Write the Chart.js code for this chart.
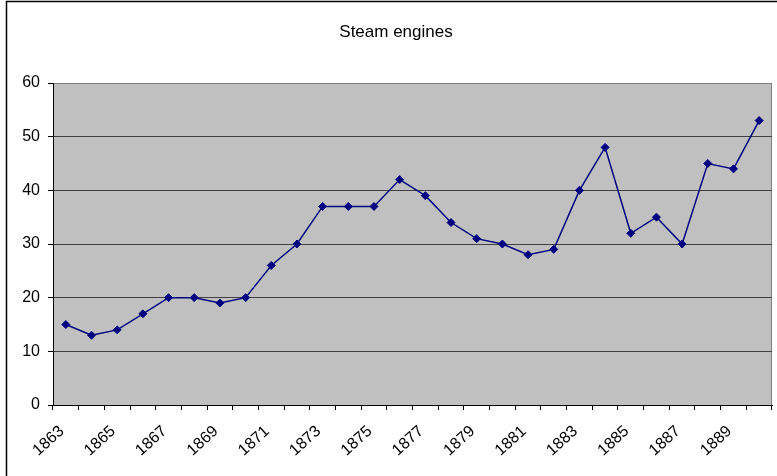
<!DOCTYPE html>
<html>
<head>
<meta charset="utf-8">
<script src="https://cdn.jsdelivr.net/npm/chart.js@4/dist/chart.umd.min.js"></script>
<style>
  html, body { margin: 0; padding: 0; background: #ffffff; }
  #wrap { width: 777px; height: 476px; position: relative; }
</style>
</head>
<body>
<div id="wrap"><canvas id="c" width="777" height="476"></canvas></div>
<script>
const chartTitle = "Steam engines";
const years = ["1863","1864","1865","1866","1867","1868","1869","1870","1871","1872",
               "1873","1874","1875","1876","1877","1878","1879","1880","1881","1882",
               "1883","1884","1885","1886","1887","1888","1889","1890"];
const steamEngines = [15, 13, 14, 17, 20, 20, 19, 20, 26, 30,
                      37, 37, 37, 42, 39, 34, 31, 30, 28, 29,
                      40, 48, 32, 35, 30, 45, 44, 53];
const yMin = 0, yMax = 60, yStep = 10;

const FONT = "'Liberation Sans', Arial, sans-serif";

const framePlugin = {
  id: 'frame',
  beforeDraw(chart) {
    const ctx = chart.ctx;
    const a = chart.chartArea;
    ctx.save();
    ctx.fillStyle = '#ffffff';
    ctx.fillRect(0, 0, chart.width, chart.height);
    // outer frame
    ctx.strokeStyle = '#000000';
    ctx.lineWidth = 1.5;
    ctx.beginPath();
    ctx.moveTo(6.5, chart.height);
    ctx.lineTo(6.5, 1.5);
    ctx.lineTo(chart.width, 1.5);
    ctx.stroke();
    // plot area
    ctx.fillStyle = '#c0c0c0';
    ctx.fillRect(a.left, a.top, a.right - a.left, a.bottom - a.top);
    ctx.strokeStyle = '#808080';
    ctx.lineWidth = 1;
    ctx.strokeRect(a.left + 0.5, a.top + 0.5, a.right - a.left - 1, a.bottom - a.top);
    ctx.restore();
  },
  afterDraw(chart) {
    const ctx = chart.ctx;
    ctx.save();
    ctx.fillStyle = '#000000';
    ctx.font = "17px " + FONT;
    ctx.textAlign = 'center';
    ctx.textBaseline = 'alphabetic';
    ctx.fillText(chartTitle, 396, 37);
    ctx.restore();
  }
};

new Chart(document.getElementById('c'), {
  type: 'line',
  data: {
    labels: years,
    datasets: [{
      label: chartTitle,
      data: steamEngines,
      borderColor: '#000080',
      backgroundColor: '#000080',
      borderWidth: 1.5,
      pointStyle: 'rectRot',
      pointRadius: 4,
      pointHoverRadius: 4,
      pointBorderWidth: 1,
      pointBorderColor: '#000080',
      pointBackgroundColor: '#000080',
      tension: 0,
      fill: false
    }]
  },
  options: {
    responsive: false,
    animation: false,
    events: [],
    layout: { padding: { left: 0, top: 83, right: 5, bottom: 0 } },
    plugins: {
      legend: { display: false },
      title: { display: false },
      tooltip: { enabled: false }
    },
    scales: {
      x: {
        type: 'category',
        offset: true,
        afterFit(scale) {
          scale.height = 71;
          scale.paddingLeft = 0;
          scale.paddingRight = 0;
        },
        grid: {
          display: true,
          offset: true,
          drawOnChartArea: false,
          drawTicks: true,
          tickLength: 5,
          tickColor: '#000000',
          tickWidth: 1
        },
        border: { display: true, color: '#000000', width: 1 },
        ticks: {
          autoSkip: false,
          maxRotation: 42,
          minRotation: 42,
          padding: 12,
          labelOffset: -4,
          color: '#000000',
          font: { family: FONT, size: 16 },
          callback(value, index) { return index % 2 === 0 ? this.getLabelForValue(value) : ''; }
        }
      },
      y: {
        min: yMin,
        max: yMax,
        afterFit(scale) { scale.width = 53; },
        grid: {
          color(ctx) { return ctx.tick && ctx.tick.value === yMax ? '#808080' : '#404040'; },
          lineWidth: 1,
          drawTicks: true,
          tickLength: 5,
          tickColor: '#000000'
        },
        border: { display: true, color: '#000000', width: 1 },
        ticks: {
          stepSize: yStep,
          padding: 8,
          color: '#000000',
          font: { family: FONT, size: 16 }
        }
      }
    }
  },
  plugins: [framePlugin]
});
</script>
</body>
</html>
